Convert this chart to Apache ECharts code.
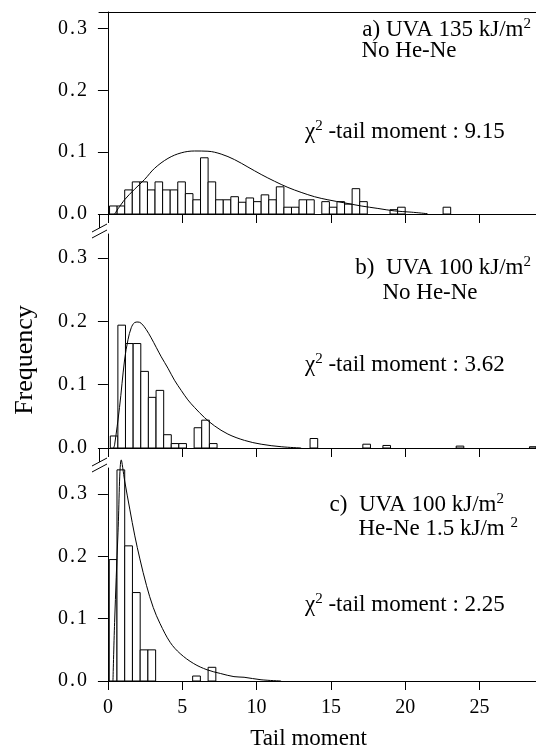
<!DOCTYPE html>
<html><head><meta charset="utf-8">
<script src="https://cdn.jsdelivr.net/npm/echarts@6/dist/echarts.min.js"></script>
<style>html,body{margin:0;padding:0;background:#fff}#c{width:536px;height:755px}</style>
</head><body><div id="c"></div>
<script>
// ---- data ----
const xTicks = [0, 5, 10, 15, 20, 25];
const yTicks = [0, 0.1, 0.2, 0.3];

// histogram bin left edges, frequencies, bin widths
const aWidth = 0.51;
const aEdges = [0.11,0.62,1.13,1.64,2.15,2.66,3.17,3.68,4.19,4.70,5.21,5.72,6.23,6.74,7.25,7.76,8.27,8.78,9.29,9.80,10.31,10.82,11.33,11.84,12.35,12.86,13.37,14.39,14.90,15.41,15.92,16.43,16.94,18.98,19.49,22.55];
const aFreq  = [0.013,0.013,0.039,0.052,0.052,0.039,0.052,0.039,0.039,0.052,0.033,0.023,0.091,0.052,0.023,0.023,0.028,0.019,0.026,0.020,0.031,0.023,0.044,0.011,0.011,0.023,0.023,0.020,0.011,0.020,0.016,0.041,0.020,0.007,0.011,0.011];

const bWidth = 0.513;
const bEdges = [0.16,0.67,1.18,1.70,2.21,2.72,3.24,3.75,4.26,4.77,5.80,6.31,6.83,13.60,17.15,18.50,23.43,28.36];
const bFreq  = [0.019,0.194,0.165,0.165,0.121,0.080,0.091,0.021,0.007,0.007,0.032,0.044,0.007,0.015,0.006,0.004,0.003,0.002];

const cWidth = 0.52;
const cEdges = [0.09,0.61,1.13,1.65,2.17,2.69,5.70,6.74];
const cFreq  = [0.195,0.339,0.217,0.142,0.050,0.050,0.008,0.022];

// fitted chi-square curves
const aCurveX = [0.45,1.12,1.79,2.47,3.14,4.04,4.93,5.83,6.73,7.62,8.52,9.42,10.31,11.21,12.11,13.0,13.9,14.8,15.92,17.04,18.16,19.28,20.4,21.5];
const aCurveY = [0,0.023,0.040,0.056,0.074,0.090,0.099,0.102,0.1016,0.097,0.088,0.076,0.064,0.053,0.043,0.035,0.028,0.023,0.018,0.013,0.009,0.005,0.003,0.0005];
const bCurveX = [0.38,0.45,0.78,1.12,1.35,1.57,1.79,2.02,2.24,2.58,2.91,3.25,3.59,4.04,4.48,4.93,5.38,5.83,6.50,7.17,8.07,9.19,10.31,11.66,13.0];
const bCurveY = [0,0.005,0.064,0.139,0.171,0.190,0.198,0.199,0.197,0.187,0.174,0.159,0.144,0.126,0.107,0.091,0.076,0.064,0.048,0.035,0.022,0.012,0.006,0.002,0];
const cCurveX = [0.34,0.45,0.68,0.90,1.13,1.47,1.81,2.15,2.60,3.05,3.51,4.19,4.86,5.77,6.67,7.58,8.48,9.16,10.3,11.65];
const cCurveY = [0,0.094,0.239,0.355,0.321,0.276,0.233,0.196,0.153,0.118,0.092,0.062,0.044,0.028,0.018,0.012,0.007,0.006,0.002,0];

const panelYMax = [0.327, 0.338, 0.342];

// ---- layout ----
const FONT = '"Liberation Serif","Times New Roman",serif';
const L = 99;
const grids = [
  {left: L, right: 0, top: 12, height: 202},
  {left: L, right: 0, top: 234, height: 214},
  {left: L, right: 0, top: 468, height: 213}
];
const XMIN = -0.6, XMAX = 28.8;

function zip(xs, ys) { return xs.map((x, i) => [x, ys[i]]); }

function histRender(width) {
  return function (params, api) {
    const x0 = api.value(0), h = api.value(1);
    const p0 = api.coord([x0, 0]);
    const p1 = api.coord([x0 + width, h]);
    const rect = echarts.graphic.clipRectByRect(
      {x: p0[0], y: p1[1], width: p1[0] - p0[0], height: p0[1] - p1[1]},
      {x: params.coordSys.x, y: params.coordSys.y - 20, width: params.coordSys.width, height: params.coordSys.height + 20});
    if (!rect) return;
    return {type: 'rect', shape: rect, style: {fill: '#fff', stroke: '#000', lineWidth: 1}};
  };
}

const xAxes = [0, 1, 2].map(i => ({
  type: 'value', gridIndex: i, min: XMIN, max: XMAX,
  axisLine: {show: true, onZero: false, lineStyle: {color: '#000', width: 1}},
  axisTick: {show: true, inside: false, length: 9, customValues: xTicks, lineStyle: {color: '#000'}},
  axisLabel: {show: i === 2, customValues: xTicks, margin: 17, color: '#000', fontSize: 20, fontFamily: FONT},
  splitLine: {show: false},
  name: i === 2 ? 'Tail moment' : '',
  nameLocation: 'middle', nameGap: 46,
  nameTextStyle: {color: '#000', fontSize: 23, fontFamily: FONT, padding: [0, 18, 0, 0]}
}));
xAxes.push({
  type: 'value', gridIndex: 0, min: XMIN, max: XMAX, position: 'top',
  axisLine: {show: true, onZero: false, lineStyle: {color: '#000', width: 1}},
  axisTick: {show: false}, axisLabel: {show: false}, splitLine: {show: false}
});

const yAxes = [0, 1, 2].map(i => ({
  type: 'value', gridIndex: i, min: 0, max: panelYMax[i],
  axisLine: {show: true, lineStyle: {color: '#000', width: 1}},
  axisTick: {show: true, inside: false, length: 10, customValues: yTicks, lineStyle: {color: '#000'}},
  axisLabel: {customValues: yTicks, margin: 12, color: '#000', fontSize: 20, fontFamily: FONT,
    formatter: v => { const s = v.toFixed(1); return '{d|' + s[0] + '}{p|.}{d|' + s[2] + '}'; },
    rich: {
      d: {fontSize: 20, fontFamily: FONT, color: '#000'},
      p: {fontSize: 20, fontFamily: FONT, color: '#000', padding: [0, 2, 0, 2]}
    }},
  splitLine: {show: false}
}));

const hist = [[aEdges, aFreq, aWidth], [bEdges, bFreq, bWidth], [cEdges, cFreq, cWidth]];
const curves = [[aCurveX, aCurveY], [bCurveX, bCurveY], [cCurveX, cCurveY]];
const series = [];
hist.forEach((h, i) => {
  series.push({type: 'custom', xAxisIndex: i, yAxisIndex: i, renderItem: histRender(h[2]),
    data: zip(h[0], h[1]), encode: {x: 0, y: 1}, silent: true, z: 2});
});
curves.forEach((c, i) => {
  series.push({type: 'line', xAxisIndex: i, yAxisIndex: i, data: zip(c[0], c[1]),
    showSymbol: false, smooth: 0.35, clip: false,
    lineStyle: {color: '#000', width: 1}, silent: true, z: 3});
});

const rich = {
  n: {fontSize: 23, fontFamily: FONT, color: '#000', lineHeight: 27},
  s: {fontSize: 15, fontFamily: FONT, color: '#000', verticalAlign: 'top', lineHeight: 27}
};
function txt(x, y, text, align) {
  return {type: 'text', style: {x: x, y: y, text: text, rich: rich, align: align, verticalAlign: 'middle', fill: '#000'}, z: 10};
}

const graphics = [
  txt(531, 30, '{n|a) UVA 135 kJ/m}{s|2}', 'right'),
  txt(409, 51, '{n|No He-Ne}', 'center'),
  txt(305, 132, '{n|χ}{s|2}{n| -tail moment : 9.15}', 'left'),
  txt(531, 268, '{n|b)  UVA 100 kJ/m}{s|2}', 'right'),
  txt(430, 293, '{n|No He-Ne}', 'center'),
  txt(305, 365, '{n|χ}{s|2}{n| -tail moment : 3.62}', 'left'),
  txt(504, 505, '{n|c)  UVA 100 kJ/m}{s|2}', 'right'),
  txt(518, 529, '{n|He-Ne 1.5 kJ/m }{s|2}', 'right'),
  txt(305, 605, '{n|χ}{s|2}{n| -tail moment : 2.25}', 'left'),
  {type: 'text', x: 25, y: 360, rotation: Math.PI / 2,
    style: {text: 'Frequency', align: 'center', verticalAlign: 'middle', fill: '#000', font: '26px ' + FONT}},
  // axis continuation and break marks
  {type: 'line', shape: {x1: L + 0.5, y1: 214, x2: L + 0.5, y2: 228}, style: {stroke: '#000', lineWidth: 1}},
  {type: 'line', shape: {x1: 92, y1: 232, x2: 107, y2: 224}, style: {stroke: '#000', lineWidth: 1}},
  {type: 'line', shape: {x1: 92, y1: 238, x2: 107, y2: 230}, style: {stroke: '#000', lineWidth: 1}},
  {type: 'line', shape: {x1: L + 0.5, y1: 448, x2: L + 0.5, y2: 462}, style: {stroke: '#000', lineWidth: 1}},
  {type: 'line', shape: {x1: 92, y1: 466, x2: 107, y2: 458}, style: {stroke: '#000', lineWidth: 1}},
  {type: 'line', shape: {x1: 92, y1: 472, x2: 107, y2: 464}, style: {stroke: '#000', lineWidth: 1}}
];

const chart = echarts.init(document.getElementById('c'), null, {renderer: 'canvas'});
chart.setOption({
  backgroundColor: '#fff',
  animation: false,
  grid: grids,
  xAxis: xAxes,
  yAxis: yAxes,
  series: series,
  graphic: graphics
});
</script></body></html>
